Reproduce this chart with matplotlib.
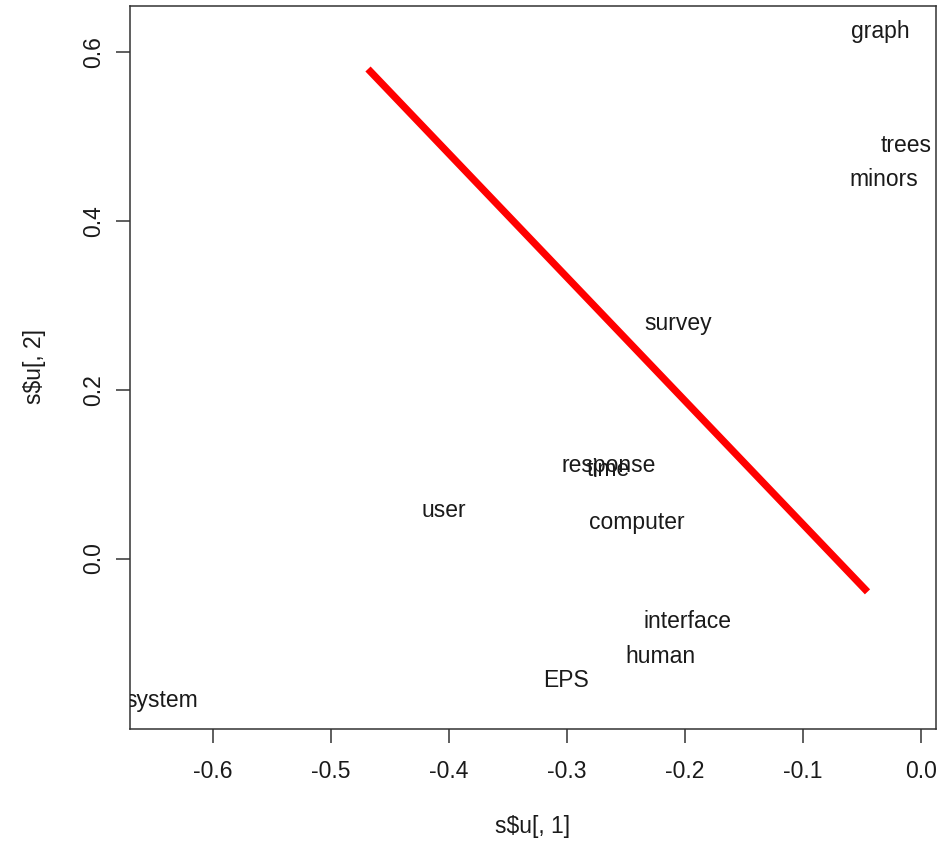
import matplotlib
matplotlib.use("Agg")
import matplotlib.pyplot as plt

plt.rcParams['font.family'] = ['Liberation Sans', 'DejaVu Sans']

# Term coordinates on the first two singular vectors
terms = ["human", "interface", "computer", "user", "system", "response",
         "time", "EPS", "survey", "trees", "graph", "minors"]
u1 = [-0.221, -0.198, -0.241, -0.404, -0.643, -0.265,
      -0.265, -0.301, -0.206, -0.013, -0.035, -0.032]
u2 = [-0.116, -0.075, 0.043, 0.057, -0.168, 0.110,
      0.106, -0.144, 0.278, 0.489, 0.624, 0.449]

# Separating line endpoints
line_x = [-0.4685, -0.0456]
line_y = [0.580, -0.0395]

xticks = [-0.6, -0.5, -0.4, -0.3, -0.2, -0.1, 0.0]
yticks = [0.0, 0.2, 0.4, 0.6]

W, H = 951, 842
fig = plt.figure(figsize=(W / 100, H / 100), dpi=100)
left, right, top, bottom = 130, 936, 5.7, 729
ax = fig.add_axes([left / W, 1 - bottom / H, (right - left) / W, (bottom - top) / H])

ax.set_xlim(-0.670, 0.0124)
ax.set_ylim(-0.202, 0.655)

fs = 16.5
for t, x, y in zip(terms, u1, u2):
    ax.text(x, y, t, ha="center", va="center", fontsize=fs, color="#1a1a1a",
            clip_on=True)

ax.plot(line_x, line_y, color="#ff0000", lw=5.2, solid_capstyle="butt")

for s in ax.spines.values():
    s.set_color("#333333")
    s.set_linewidth(1.1)

ax.set_xticks(xticks)
ax.set_xticklabels([f"{v:.1f}" for v in xticks])
ax.set_yticks(yticks)
ax.set_yticklabels([f"{v:.1f}" for v in yticks], rotation=90, va="center")
ax.tick_params(axis="both", length=10, width=1.1, color="#333333",
               labelsize=fs, labelcolor="#1a1a1a")
ax.tick_params(axis="x", pad=12)
ax.tick_params(axis="y", pad=8)

fig.text(533 / W, 1 - 827 / H, "s$u[, 1]", ha="center", va="center",
         fontsize=fs, color="#1a1a1a")
fig.text(35 / W, 1 - 367 / H, "s$u[, 2]", ha="center", va="center",
         rotation=90, fontsize=fs, color="#1a1a1a")

fig.savefig("out.png", dpi=100)
